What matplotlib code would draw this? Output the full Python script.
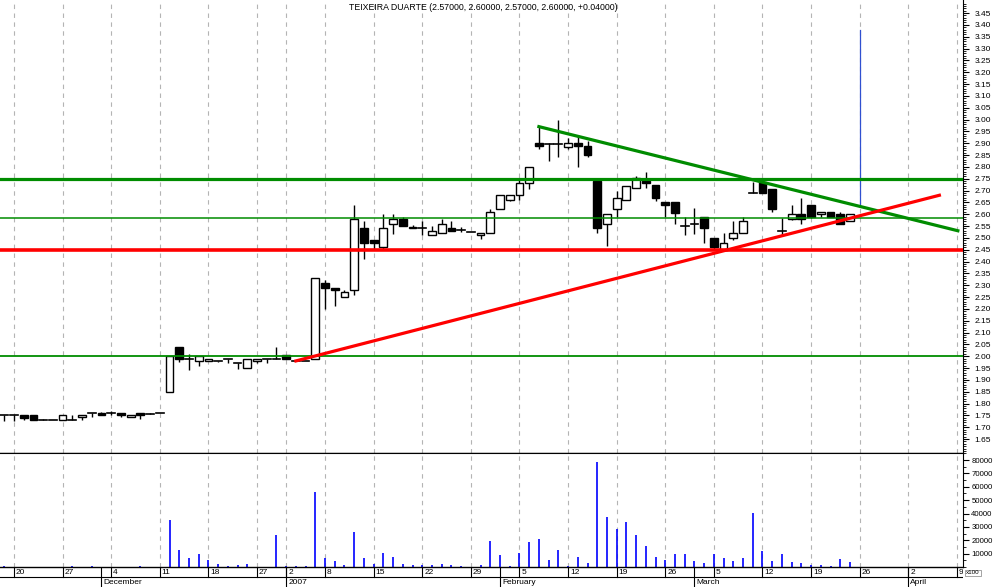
import matplotlib
matplotlib.use('Agg')
import matplotlib.pyplot as plt
import numpy as np
import pandas as pd
from matplotlib.patches import Rectangle

plt.rcParams['font.family'] = ['Liberation Sans', 'DejaVu Sans']

# trading days (no Christmas / New Year sessions)
days = pd.bdate_range('2006-11-17', '2007-04-09')
days = days[~days.isin(pd.to_datetime(['2006-12-25', '2006-12-26', '2007-01-01']))]

# daily prices, one entry per session from 17 Nov 2006 to 23 Mar 2007
opens = [1.75, 1.75, 1.75, 1.75, 1.73, 1.73, 1.73, 1.73, 1.745, 1.76,
         1.76, 1.76, 1.76, 1.745, 1.76, 1.755, 1.76, 1.85, 2.04, 1.99,
         1.98, 1.98, 1.98, 1.99, 1.97, 1.95, 1.98, 1.99, 1.99, 2.005,
         1.98, 1.98, 1.99, 2.31, 2.29, 2.25, 2.28, 2.54, 2.49, 2.46,
         2.56, 2.58, 2.545, 2.54, 2.51, 2.52, 2.54, 2.535, 2.525, 2.51,
         2.52, 2.62, 2.66, 2.68, 2.73, 2.90, 2.895, 2.895, 2.885, 2.90,
         2.89, 2.74, 2.56, 2.62, 2.66, 2.71, 2.74, 2.725, 2.65, 2.65,
         2.55, 2.56, 2.59, 2.50, 2.45, 2.50, 2.52, 2.69, 2.735, 2.705,
         2.53, 2.58, 2.60, 2.64, 2.60, 2.61, 2.60, 2.57]
highs = [1.75, 1.75, 1.75, 1.75, 1.735, 1.73, 1.75, 1.75, 1.75, 1.76,
         1.765, 1.77, 1.76, 1.75, 1.76, 1.76, 1.76, 2.00, 2.04, 2.01,
         2.00, 1.99, 1.98, 1.99, 1.97, 1.99, 1.99, 1.99, 2.04, 2.005,
         1.98, 1.98, 2.33, 2.32, 2.29, 2.28, 2.64, 2.57, 2.49, 2.60,
         2.60, 2.59, 2.555, 2.57, 2.55, 2.58, 2.57, 2.545, 2.525, 2.52,
         2.62, 2.68, 2.68, 2.755, 2.80, 2.97, 2.90, 3.00, 2.92, 2.935,
         2.91, 2.75, 2.60, 2.70, 2.72, 2.76, 2.78, 2.725, 2.65, 2.65,
         2.59, 2.625, 2.59, 2.50, 2.52, 2.57, 2.59, 2.735, 2.735, 2.705,
         2.585, 2.64, 2.67, 2.64, 2.61, 2.61, 2.61, 2.60]
lows = [1.725, 1.725, 1.73, 1.73, 1.73, 1.73, 1.73, 1.73, 1.73, 1.745,
        1.75, 1.75, 1.745, 1.745, 1.735, 1.755, 1.76, 1.85, 1.975, 1.94,
        1.96, 1.98, 1.975, 1.97, 1.945, 1.95, 1.97, 1.97, 1.99, 1.99,
        1.98, 1.98, 1.99, 2.20, 2.21, 2.25, 2.26, 2.41, 2.455, 2.455,
        2.515, 2.55, 2.54, 2.51, 2.51, 2.52, 2.53, 2.525, 2.525, 2.495,
        2.52, 2.62, 2.655, 2.66, 2.705, 2.875, 2.825, 2.84, 2.875, 2.80,
        2.84, 2.52, 2.465, 2.59, 2.66, 2.71, 2.71, 2.655, 2.59, 2.56,
        2.51, 2.515, 2.48, 2.45, 2.45, 2.49, 2.52, 2.69, 2.69, 2.61,
        2.51, 2.575, 2.56, 2.585, 2.59, 2.59, 2.56, 2.57]
closes = [1.75, 1.75, 1.74, 1.73, 1.73, 1.73, 1.75, 1.73, 1.75, 1.76,
          1.75, 1.76, 1.75, 1.75, 1.75, 1.755, 1.76, 2.00, 1.99, 1.99,
          2.00, 1.99, 1.98, 1.99, 1.97, 1.99, 1.99, 1.99, 1.99, 1.99,
          1.98, 1.98, 2.33, 2.29, 2.28, 2.27, 2.58, 2.48, 2.48, 2.54,
          2.58, 2.55, 2.54, 2.54, 2.53, 2.56, 2.53, 2.535, 2.525, 2.52,
          2.61, 2.68, 2.68, 2.73, 2.80, 2.89, 2.895, 2.895, 2.90, 2.89,
          2.85, 2.54, 2.60, 2.67, 2.72, 2.755, 2.73, 2.67, 2.64, 2.605,
          2.55, 2.56, 2.54, 2.46, 2.48, 2.52, 2.57, 2.69, 2.69, 2.62,
          2.53, 2.60, 2.58, 2.59, 2.61, 2.59, 2.56, 2.60]
volumes = [500, 0, 0, 0, 0, 0, 0, 500, 0, 500,
           0, 0, 0, 0, 500, 0, 0, 35100, 12500, 6500,
           9500, 5000, 2000, 700, 1200, 2000, 0, 0, 23800, 500,
           500, 500, 56200, 6500, 4300, 1300, 26100, 6500, 2000, 10300,
           7300, 2000, 1300, 1300, 1300, 2000, 1300, 500, 0, 1500,
           19500, 9300, 500, 10800, 19000, 21300, 5500, 13000, 1000, 7800,
           3300, 78500, 37100, 28800, 33400, 24300, 16000, 7800, 5500, 10000,
           10000, 4800, 3300, 10000, 7000, 4800, 7000, 40100, 12300, 4800,
           10000, 4000, 3300, 1800, 1800, 1000, 6300, 4000]

title = 'TEIXEIRA DUARTE (2.57000, 2.60000, 2.57000, 2.60000, +0.04000)'
month_labels = ['December', '2007', 'February', 'March', 'April']

# drawn support / resistance levels
level_green_thick = 2.75
level_green_thin = 2.585
level_red = 2.45
level_green_low = 2.00
green_trend_x = [55, 98.1]
green_trend_y = [2.97, 2.53]
red_trend_x = [30, 96.2]
red_trend_y = [1.98, 2.68]
marker_x = 88
marker_y = [2.64, 3.38]

GREEN = '#008c00'
RED = '#ff0000'
GRID = '#b4b4b4'
W, H = 994, 587
xlim = (-0.44, 98.63)

fig = plt.figure(figsize=(W / 100, H / 100), dpi=100)
axp = fig.add_axes([0, 1 - 453 / H, 963 / W, 453 / H])
axv = fig.add_axes([0, 1 - 567 / H, 963 / W, 114 / H])
axd = fig.add_axes([0, 0, 963 / W, 20 / H])

# week ticks = first session of each week, month marks = first session of each month
wk = days.isocalendar().week.values
week_idx = [i for i in range(1, len(days)) if wk[i] != wk[i - 1]]
month_idx = [i for i in range(1, len(days)) if days[i].month != days[i - 1].month]

for ax in (axp, axv):
    ax.set_xlim(*xlim)
    for i in week_idx:
        ax.axvline(i, color=GRID, lw=0.8, ls=(0, (4, 4)), zorder=0)
    ax.yaxis.tick_right()
    ax.tick_params(axis='y', which='major', direction='out', length=4.5, width=0.8,
                   labelsize=6, pad=4)
    ax.tick_params(axis='y', which='minor', direction='out', length=2.5, width=0.6)
    ax.set_xticks([])
    for s in ('left', 'top'):
        ax.spines[s].set_visible(False)

# candles
for i in range(len(opens)):
    o, h, l, c = opens[i], highs[i], lows[i], closes[i]
    axp.plot([i, i], [l, h], color='black', lw=1, zorder=2, solid_capstyle='butt')
    if abs(c - o) < 1e-9:
        axp.plot([i - 0.4, i + 0.4], [o, o], color='black', lw=1.2, zorder=3)
    else:
        fc = 'white' if c > o else 'black'
        axp.add_patch(Rectangle((i - 0.4, min(o, c)), 0.8, abs(c - o),
                                facecolor=fc, edgecolor='black', lw=1, zorder=3))

axp.axhline(level_green_thick, color=GREEN, lw=2.3, zorder=5)
axp.axhline(level_green_thin, color=GREEN, lw=1.1, zorder=5)
axp.axhline(level_red, color=RED, lw=2.6, zorder=5)
axp.axhline(level_green_low, color=GREEN, lw=1.3, zorder=5)
axp.plot(green_trend_x, green_trend_y, color=GREEN, lw=2.3, zorder=6)
axp.plot(red_trend_x, red_trend_y, color=RED, lw=2.3, zorder=6)
axp.plot([marker_x, marker_x], marker_y, color='#3050d0', lw=0.9, zorder=4)

axp.set_ylim(1.591, 3.505)
axp.set_yticks(np.round(np.arange(1.65, 3.451, 0.05), 2))
axp.set_yticks(np.arange(1.60, 3.50, 0.01), minor=True)
axp.yaxis.set_major_formatter(plt.FormatStrFormatter('%.2f'))
axp.spines['bottom'].set_linewidth(1)

fig.text(483 / W, 1 - 7 / H, title, ha='center', va='center', fontsize=6.3)

# volume
axv.vlines(range(len(volumes)), 0, volumes, color='#0000ff', lw=1.2, zorder=2)
axv.set_ylim(0, 85300)
axv.set_yticks(np.arange(10000, 80001, 10000))
axv.set_yticks(np.arange(0, 85001, 5000), minor=True)
axv.yaxis.set_major_formatter(plt.FormatStrFormatter('%d'))
axv.tick_params(axis='y', which='major', labelsize=5.6, pad=1.5)
axv.spines['top'].set_visible(True)
axv.spines['bottom'].set_linewidth(1)
fig.text(966 / W, 1 - 573 / H, 'x100', fontsize=4.5, va='center', ha='left',
         bbox=dict(boxstyle='square,pad=0.15', fc='white', ec='#808080', lw=0.5))

# date strip
axd.set_xlim(*xlim)
axd.set_ylim(0, 2)
axd.axis('off')
axd.axhline(1, color='black', lw=0.8)
for i in week_idx:
    axd.plot([i, i], [1, 2], color='black', lw=0.8)
    axd.text(i + 0.2, 1.5, str(days[i].day), fontsize=6, va='center', ha='left',
             clip_on=True)
for i, lab in zip(month_idx, month_labels):
    axd.plot([i, i], [0, 2], color='black', lw=0.8)
    axd.text(i + 0.2, 0.5, lab, fontsize=6, va='center', ha='left', clip_on=True)

fig.savefig('out.png', dpi=100)
